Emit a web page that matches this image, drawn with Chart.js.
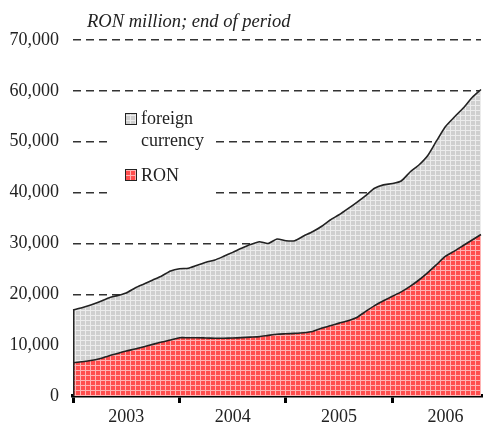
<!DOCTYPE html>
<html>
<head>
<meta charset="utf-8">
<script src="https://cdn.jsdelivr.net/npm/chart.js@4.4.1/dist/chart.umd.min.js"></script>
<style>
  html, body { margin: 0; padding: 0; background: #fff; }
  #wrap { position: relative; width: 484px; height: 426px; }
</style>
</head>
<body>
<div id="wrap"><canvas id="chart" width="484" height="426"></canvas></div>
<script>
// monthly, end of period (Dec 2002 .. Oct 2006)
const months = [
  '2002-12',
  '2003-01','2003-02','2003-03','2003-04','2003-05','2003-06','2003-07','2003-08','2003-09','2003-10','2003-11','2003-12',
  '2004-01','2004-02','2004-03','2004-04','2004-05','2004-06','2004-07','2004-08','2004-09','2004-10','2004-11','2004-12',
  '2005-01','2005-02','2005-03','2005-04','2005-05','2005-06','2005-07','2005-08','2005-09','2005-10','2005-11','2005-12',
  '2006-01','2006-02','2006-03','2006-04','2006-05','2006-06','2006-07','2006-08','2006-09','2006-10'
];

// RON deposits (RON million)
const ron = [
  6550, 6720, 6980, 7310, 7880, 8360, 8850, 9240, 9690, 10150, 10620, 11010, 11460,
  11460, 11460, 11400, 11350, 11350, 11400, 11480, 11580, 11680, 11920, 12150, 12230,
  12310, 12430, 12680, 13310, 13800, 14330, 14810, 15440, 16630, 17760, 18720, 19600,
  20470, 21550, 22810, 24260, 25860, 27490, 28490, 29590, 30670, 31760
];

// total incl. foreign currency (RON million)
const total = [
  16900, 17340, 17890, 18520, 19270, 19740, 20250, 21240, 22020, 22810, 23600, 24580, 25030,
  25130, 25720, 26310, 26740, 27470, 28240, 29040, 29770, 30340, 29990, 30870, 30540,
  30540, 31460, 32290, 33330, 34610, 35630, 36830, 38090, 39420, 40840, 41510, 41780,
  42280, 44040, 45420, 47290, 50200, 52990, 54860, 56630, 58690, 60270
];

const yTicks = [0, 10000, 20000, 30000, 40000, 50000, 60000, 70000];

const serif = '"Liberation Serif", "Times New Roman", serif';

function makePattern(base, line) {
  const c = document.createElement('canvas');
  c.width = 5; c.height = 5;
  const g = c.getContext('2d');
  g.fillStyle = base;
  g.fillRect(0, 0, 5, 5);
  g.fillStyle = line;
  g.fillRect(0, 0, 5, 1);
  g.fillRect(0, 0, 1, 5);
  return g.createPattern(c, 'repeat');
}

const ctx = document.getElementById('chart').getContext('2d');
const redFill = makePattern('#ff4d4d', '#ffb3b3');
const greyFill = makePattern('#cfcfcf', '#ececec');

// title, legend and the left edge of the area
const decorations = {
  id: 'decorations',
  afterDatasetsDraw(chart) {
    const c = chart.ctx;
    const x0 = chart.scales.x.getPixelForValue(0);
    c.save();
    c.strokeStyle = '#222';
    c.lineWidth = 1.5;
    c.beginPath();
    c.moveTo(x0 + 0.75, chart.scales.y.getPixelForValue(0));
    c.lineTo(x0 + 0.75, chart.scales.y.getPixelForValue(total[0]));
    c.stroke();
    c.restore();
  },
  afterDraw(chart) {
    const c = chart.ctx;
    c.save();
    c.fillStyle = '#222';
    c.textBaseline = 'alphabetic';
    c.textAlign = 'left';
    c.font = 'italic 18.5px ' + serif;
    c.fillText('RON million; end of period', 87, 27);

    // legend box
    c.fillStyle = '#fff';
    c.fillRect(111, 100, 102, 102);
    c.font = '18px ' + serif;
    c.fillStyle = greyFill;
    c.fillRect(125, 113, 12, 12);
    c.strokeStyle = '#222';
    c.lineWidth = 1;
    c.strokeRect(125.5, 113.5, 11, 11);
    c.fillStyle = redFill;
    c.fillRect(125, 169, 12, 12);
    c.strokeRect(125.5, 169.5, 11, 11);
    c.fillStyle = '#222';
    c.fillText('foreign', 141, 124);
    c.fillText('currency', 141, 146);
    c.fillText('RON', 141, 181);
    c.restore();
  }
};

new Chart(ctx, {
  type: 'line',
  data: {
    labels: months,
    datasets: [
      {
        label: 'RON',
        data: ron,
        fill: 'origin',
        backgroundColor: redFill,
        borderColor: '#222',
        borderWidth: 1.6,
        pointRadius: 0,
        tension: 0.2
      },
      {
        label: 'foreign currency',
        data: total,
        fill: '-1',
        backgroundColor: greyFill,
        borderColor: '#222',
        borderWidth: 1.6,
        pointRadius: 0,
        tension: 0.2
      }
    ]
  },
  options: {
    responsive: false,
    animation: false,
    layout: { padding: { top: 40, left: 0, right: 0, bottom: 0 } },
    plugins: {
      legend: { display: false },
      tooltip: { enabled: false }
    },
    scales: {
      x: {
        type: 'category',
        offset: false,
        afterFit: s => { s.height = 30; },
        grid: {
          drawOnChartArea: false,
          tickLength: 7,
          lineWidth: 3,
          color: c => (months[c.index] || '').endsWith('-12') ? '#000' : 'rgba(0,0,0,0)'
        },
        border: { display: true, color: '#000', width: 3.5 },
        ticks: {
          autoSkip: false,
          maxRotation: 0,
          padding: 3,
          color: '#222',
          font: { family: serif, size: 18 },
          callback: (v, i) => months[i].endsWith('-06') ? months[i].slice(0, 4) : ''
        }
      },
      y: {
        min: 0,
        max: 70000,
        afterFit: s => { s.width = 73; },
        afterBuildTicks: s => { s.ticks = yTicks.map(v => ({ value: v })); },
        grid: {
          drawTicks: false,
          lineWidth: 1.5,
          color: c => c.tick && c.tick.value === 0 ? 'rgba(0,0,0,0)' : '#333'
        },
        border: { display: false, dash: [8, 5] },
        ticks: {
          padding: 14,
          color: '#222',
          font: { family: serif, size: 18 },
          callback: v => v.toLocaleString('en-US')
        }
      }
    }
  },
  plugins: [decorations]
});
</script>
</body>
</html>
